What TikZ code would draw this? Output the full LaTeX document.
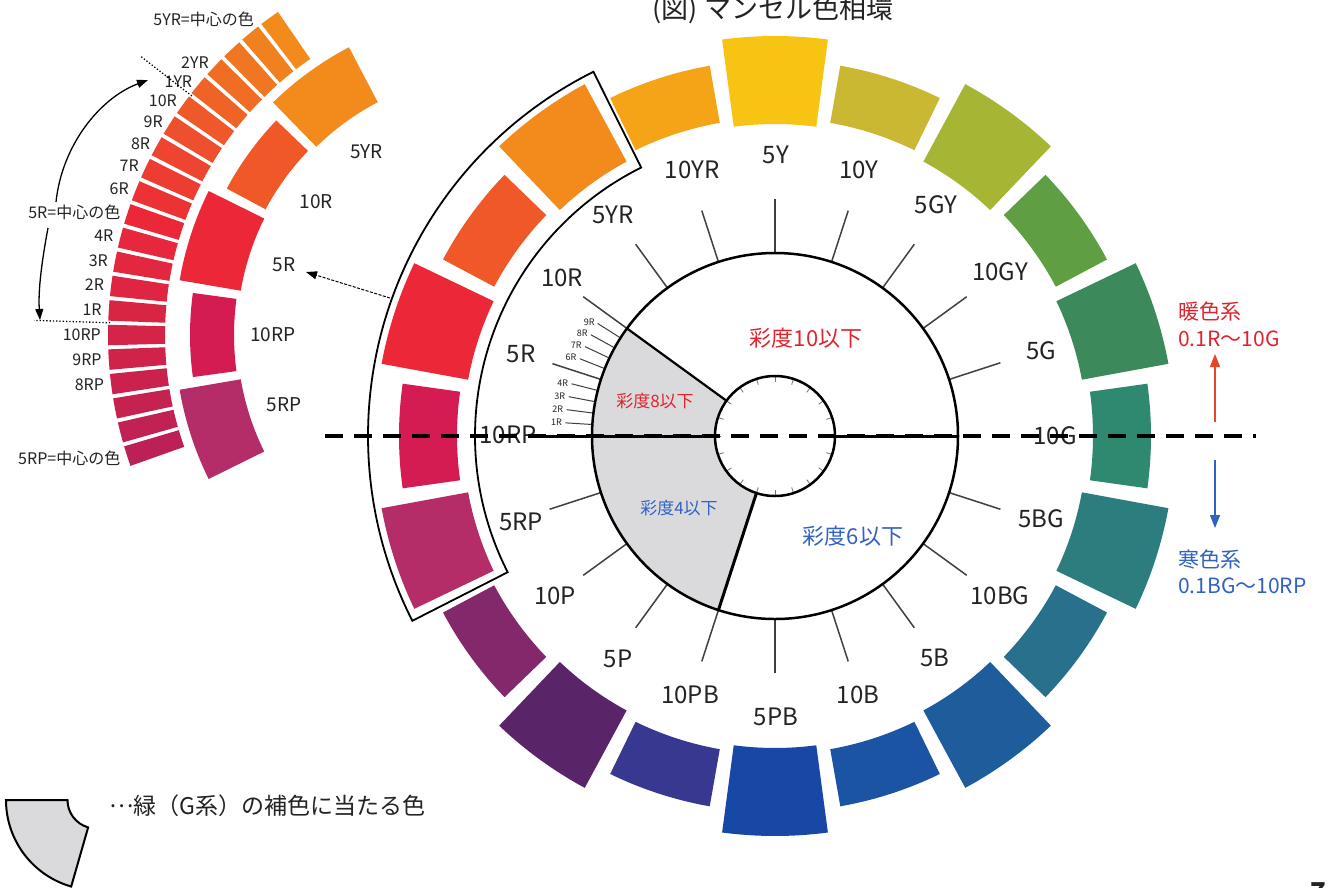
\documentclass[tikz,border=0pt]{standalone}
\usepackage{fontspec}
\setmainfont{Noto Sans CJK JP}
\usetikzlibrary{arrows.meta}
\definecolor{cRPt}{RGB}{212,28,82}
\definecolor{cRf}{RGB}{236,40,56}
\definecolor{cRt}{RGB}{240,88,40}
\definecolor{cYRf}{RGB}{242,138,28}
\definecolor{cYRt}{RGB}{245,164,24}
\definecolor{cYf}{RGB}{248,196,20}
\definecolor{cYt}{RGB}{202,184,50}
\definecolor{cGYf}{RGB}{166,181,52}
\definecolor{cGYt}{RGB}{96,158,68}
\definecolor{cGf}{RGB}{60,138,92}
\definecolor{cGt}{RGB}{47,136,112}
\definecolor{cBGf}{RGB}{44,126,126}
\definecolor{cBGt}{RGB}{40,112,140}
\definecolor{cBf}{RGB}{30,92,156}
\definecolor{cBt}{RGB}{28,84,164}
\definecolor{cPBf}{RGB}{24,72,166}
\definecolor{cPBt}{RGB}{56,56,144}
\definecolor{cPf}{RGB}{90,36,104}
\definecolor{cPt}{RGB}{132,40,108}
\definecolor{cRPf}{RGB}{180,44,104}
\definecolor{fanRP}{RGB}{188,32,86}
\definecolor{grayreg}{RGB}{218,218,220}
\definecolor{lblred}{RGB}{224,36,46}
\definecolor{lblblue}{RGB}{48,98,196}
\definecolor{txt}{RGB}{35,35,35}
\definecolor{arrred}{RGB}{230,70,40}
\tikzset{
  hue/.style={text=txt, font=\fontsize{24}{26}\selectfont, inner sep=1pt},
  fanlbl/.style={text=txt, font=\fontsize{19}{21}\selectfont, inner sep=1pt},
  finelbl/.style={text=txt, font=\fontsize{16}{18}\selectfont, inner sep=1pt, anchor=east},
  tinylbl/.style={text=txt, font=\fontsize{9}{10}\selectfont, inner sep=0.5pt, anchor=east},
  tickline/.style={line width=1.5pt, black!75},
  chroma/.style={font=\fontsize{22}{24}\selectfont, inner sep=1pt},
  chromas/.style={font=\fontsize{17}{19}\selectfont, inner sep=1pt},
  side/.style={font=\fontsize{21}{23}\selectfont, inner sep=1pt, anchor=west},
}
\begin{document}
\begin{tikzpicture}[x=1pt,y=-1pt]
\useasboundingbox (0,0) rectangle (1340,887);
\fill[white] (0,0) rectangle (1340,887);

% ===== main hue wheel =====
\coordinate (C) at (775,436);
\begin{scope}[shift={(C)}]
  \foreach \a/\col in {198/cRf,234/cYRf,270/cYf,306/cGYf,342/cGf,18/cBGf,54/cBf,90/cPBf,126/cPf,162/cRPf}{
    \fill[\col] ({\a-7.6}:312) arc[start angle=\a-7.6,end angle=\a+7.6,radius=312]
      -- ({\a+7.6}:400) arc[start angle=\a+7.6,end angle=\a-7.6,radius=400] -- cycle;
  }
  \foreach \a/\col in {180/cRPt,216/cRt,252/cYRt,288/cYt,324/cGYt,0/cGt,36/cBGt,72/cBt,108/cPBt,144/cPt}{
    \fill[\col] ({\a-8}:318) arc[start angle=\a-8,end angle=\a+8,radius=318]
      -- ({\a+8}:376) arc[start angle=\a+8,end angle=\a-8,radius=376] -- cycle;
  }
  \draw[line width=1.8pt] (243.5:407) arc[start angle=243.5,end angle=153,radius=407]
     -- (153:300) arc[start angle=153,end angle=243.5,radius=300] -- cycle;
  \fill[grayreg] (180:60) -- (180:183) arc[start angle=180,end angle=216,radius=183]
     -- (216:60) arc[start angle=216,end angle=180,radius=60] -- cycle;
  \fill[grayreg] (108:60) -- (108:183) arc[start angle=108,end angle=180,radius=183]
     -- (180:60) arc[start angle=180,end angle=108,radius=60] -- cycle;
  \foreach \a in {216,234,252,270,288,306,324,342,18,36,54,72,90,108,126,144,162}{
    \draw[tickline] (\a:183) -- (\a:237);
  }
  \draw[tickline] (198:183) -- (198:234);
  \foreach \n in {1,2,3,4,6,7,8,9}{
    \draw[line width=1pt, black!75] ({180+3.6*\n}:184) -- ({180+3.6*\n}:210);
    \node[tinylbl] (t\n) at ({180+3.6*\n}:213) {\n R};
  }
  \foreach \a in {0,18,...,342}{
    \draw[line width=0.8pt, black!55] (\a:60) -- (\a:54);
  }
  \draw[line width=2.5pt] (0,0) circle[radius=183];
  \draw[line width=2.5pt] (0,0) circle[radius=60];
  \draw[line width=2.2pt] (216:60) -- (216:183);
  \draw[line width=3pt] (108:60) -- (108:183);
  \draw[line width=3pt] (180:60) -- (180:245);
  \draw[line width=3pt] (0:60) -- (0:183);
\end{scope}

\node[hue] (l10RP) at (508,435) {10RP};
\node[hue] (l5R) at (521,354) {5R};
\node[hue] (l10R) at (562,278) {10R};
\node[hue] (l5YR) at (613,215) {5YR};
\node[hue] (l10YR) at (692,170) {10YR};
\node[hue] (l5Y) at (776,155) {5Y};
\node[hue] (l10Y) at (859,170) {10Y};
\node[hue] (l5GY) at (936,205) {5GY};
\node[hue] (l10GY) at (1000,272) {10GY};
\node[hue] (l5G) at (1041,351) {5G};
\node[hue] (l10G) at (1055,436) {10G};
\node[hue] (l5BG) at (1041,519) {5BG};
\node[hue] (l10BG) at (1000,596) {10BG};
\node[hue] (l5B) at (935,658) {5B};
\node[hue] (l10B) at (858,695) {10B};
\node[hue] (l5PB) at (776,717) {5PB};
\node[hue] (l10PB) at (690,695) {10PB};
\node[hue] (l5P) at (618,659) {5P};
\node[hue] (l10P) at (555,596) {10P};
\node[hue] (l5RP) at (521,522) {5RP};

\node[chroma, text=lblred] (c10) at (806,338) {彩度10以下};
\node[chromas, text=lblred] (c8) at (655,401) {彩度8以下};
\node[chromas, text=lblblue] (c4) at (679,508) {彩度4以下};
\node[chroma, text=lblblue] (c6) at (853,536) {彩度6以下};

% ===== left detail fan =====
\coordinate (F) at (500,335);
\begin{scope}[shift={(F)}]
  \foreach \a/\col in {234/cYRf,198/cRf,162/cRPf}{
    \fill[\col] ({\a-8.3}:263) arc[start angle=\a-8.3,end angle=\a+8.3,radius=263]
      -- ({\a+8.3}:325) arc[start angle=\a+8.3,end angle=\a-8.3,radius=325] -- cycle;
  }
  \foreach \a/\col in {216/cRt,180/cRPt}{
    \fill[\col] ({\a-7.8}:266) arc[start angle=\a-7.8,end angle=\a+7.8,radius=266]
      -- ({\a+7.8}:310) arc[start angle=\a+7.8,end angle=\a-7.8,radius=310] -- cycle;
  }
  \foreach \i in {0,...,20}{
    \pgfmathsetmacro\t{162+3.6*\i}
    \ifnum\i<10
      \pgfmathtruncatemacro\p{\i*10}\colorlet{fc}{cRf!\p!fanRP}
    \else
      \pgfmathtruncatemacro\p{(\i-10)*10}\colorlet{fc}{cYRf!\p!cRf}
    \fi
    \fill[fc] ({\t-1.5}:335) arc[start angle=\t-1.5,end angle=\t+1.5,radius=335]
      -- ({\t+1.5}:392) arc[start angle=\t+1.5,end angle=\t-1.5,radius=392] -- cycle;
  }
  \node[fanlbl] (f5YR) at (234:227) {5YR};
  \node[fanlbl] (f10R) at (216:227) {10R};
  \node[fanlbl] (f5R) at (198:227) {5R};
  \node[fanlbl] (f10RP) at (180:227) {10RP};
  \node[fanlbl] (f5RP) at (162:227) {5RP};
  \foreach \i/\s in {0/5RP=中心の色,3/8RP,4/9RP,5/10RP,6/1R,7/2R,8/3R,9/4R,10/5R=中心の色,11/6R,12/7R,13/8R,14/9R,15/10R,16/1YR,17/2YR}{
    \node[finelbl] (s\i) at ({162+3.6*\i}:398) {\s};
  }
  \draw[dotted, line width=1.3pt] (181.8:390) -- (181.8:466);
  \draw[dotted, line width=1.3pt] (217.8:390) -- (217.8:455);
\end{scope}
\node[finelbl] (s20) at (255,19) {5YR=中心の色};

\coordinate (ua) at (56,202);
\coordinate (ub) at (148,80);
\coordinate (da) at (48,228);
\coordinate (db) at (40,320);
\draw[line width=1.3pt, -{Triangle[length=11pt,width=8pt]}] (ua) .. controls (62,145) and (100,98) .. (ub);
\draw[line width=1.3pt, -{Triangle[length=11pt,width=8pt]}] (da) .. controls (42,260) and (38,290) .. (db);

\coordinate (ka) at (390,298);
\coordinate (kb) at (306,272);
\draw[line width=1pt, dash pattern=on 3pt off 1.5pt, -{Triangle[length=11pt,width=8pt]}] (ka) -- (kb);

\coordinate (xa) at (325,436);
\coordinate (xb) at (1256,436);
\draw[line width=4.5pt, dash pattern=on 18pt off 11pt] (xa) -- (xb);

\node[side, text=lblred] (w1) at (1177,312) {暖色系};
\node[side, text=lblred] (w2) at (1177,339) {0.1R～10G};
\node[side, text=lblblue] (k1) at (1177,559) {寒色系};
\node[side, text=lblblue] (k2) at (1177,586) {0.1BG～10RP};
\coordinate (wa) at (1215,422);
\coordinate (wb) at (1215,354);
\coordinate (ca) at (1215,460);
\coordinate (cb) at (1215,528);
\draw[line width=1.3pt, arrred, -{Triangle[length=13pt,width=10pt]}] (wa) -- (wb);
\draw[line width=1.3pt, lblblue, -{Triangle[length=13pt,width=10pt]}] (ca) -- (cb);

\node[font=\fontsize{27}{29}\selectfont, text=txt] (title) at (773,10) {(図) マンセル色相環};

\begin{scope}[shift={(96,800)}]
  \filldraw[fill=grayreg, line width=2pt] (180:28.5) -- (180:90) arc[start angle=180,end angle=106,radius=90]
     -- (106:28.5) arc[start angle=106,end angle=180,radius=28.5] -- cycle;
\end{scope}
\node[font=\fontsize{23}{25}\selectfont, text=txt, anchor=west] (leg) at (106,806) {\raisebox{0.3em}{…}緑（G系）の補色に当たる色};

\node[font=\bfseries\fontsize{26}{28}\selectfont, text=txt] (pg) at (1318,892) {7};
\end{tikzpicture}
\end{document}
